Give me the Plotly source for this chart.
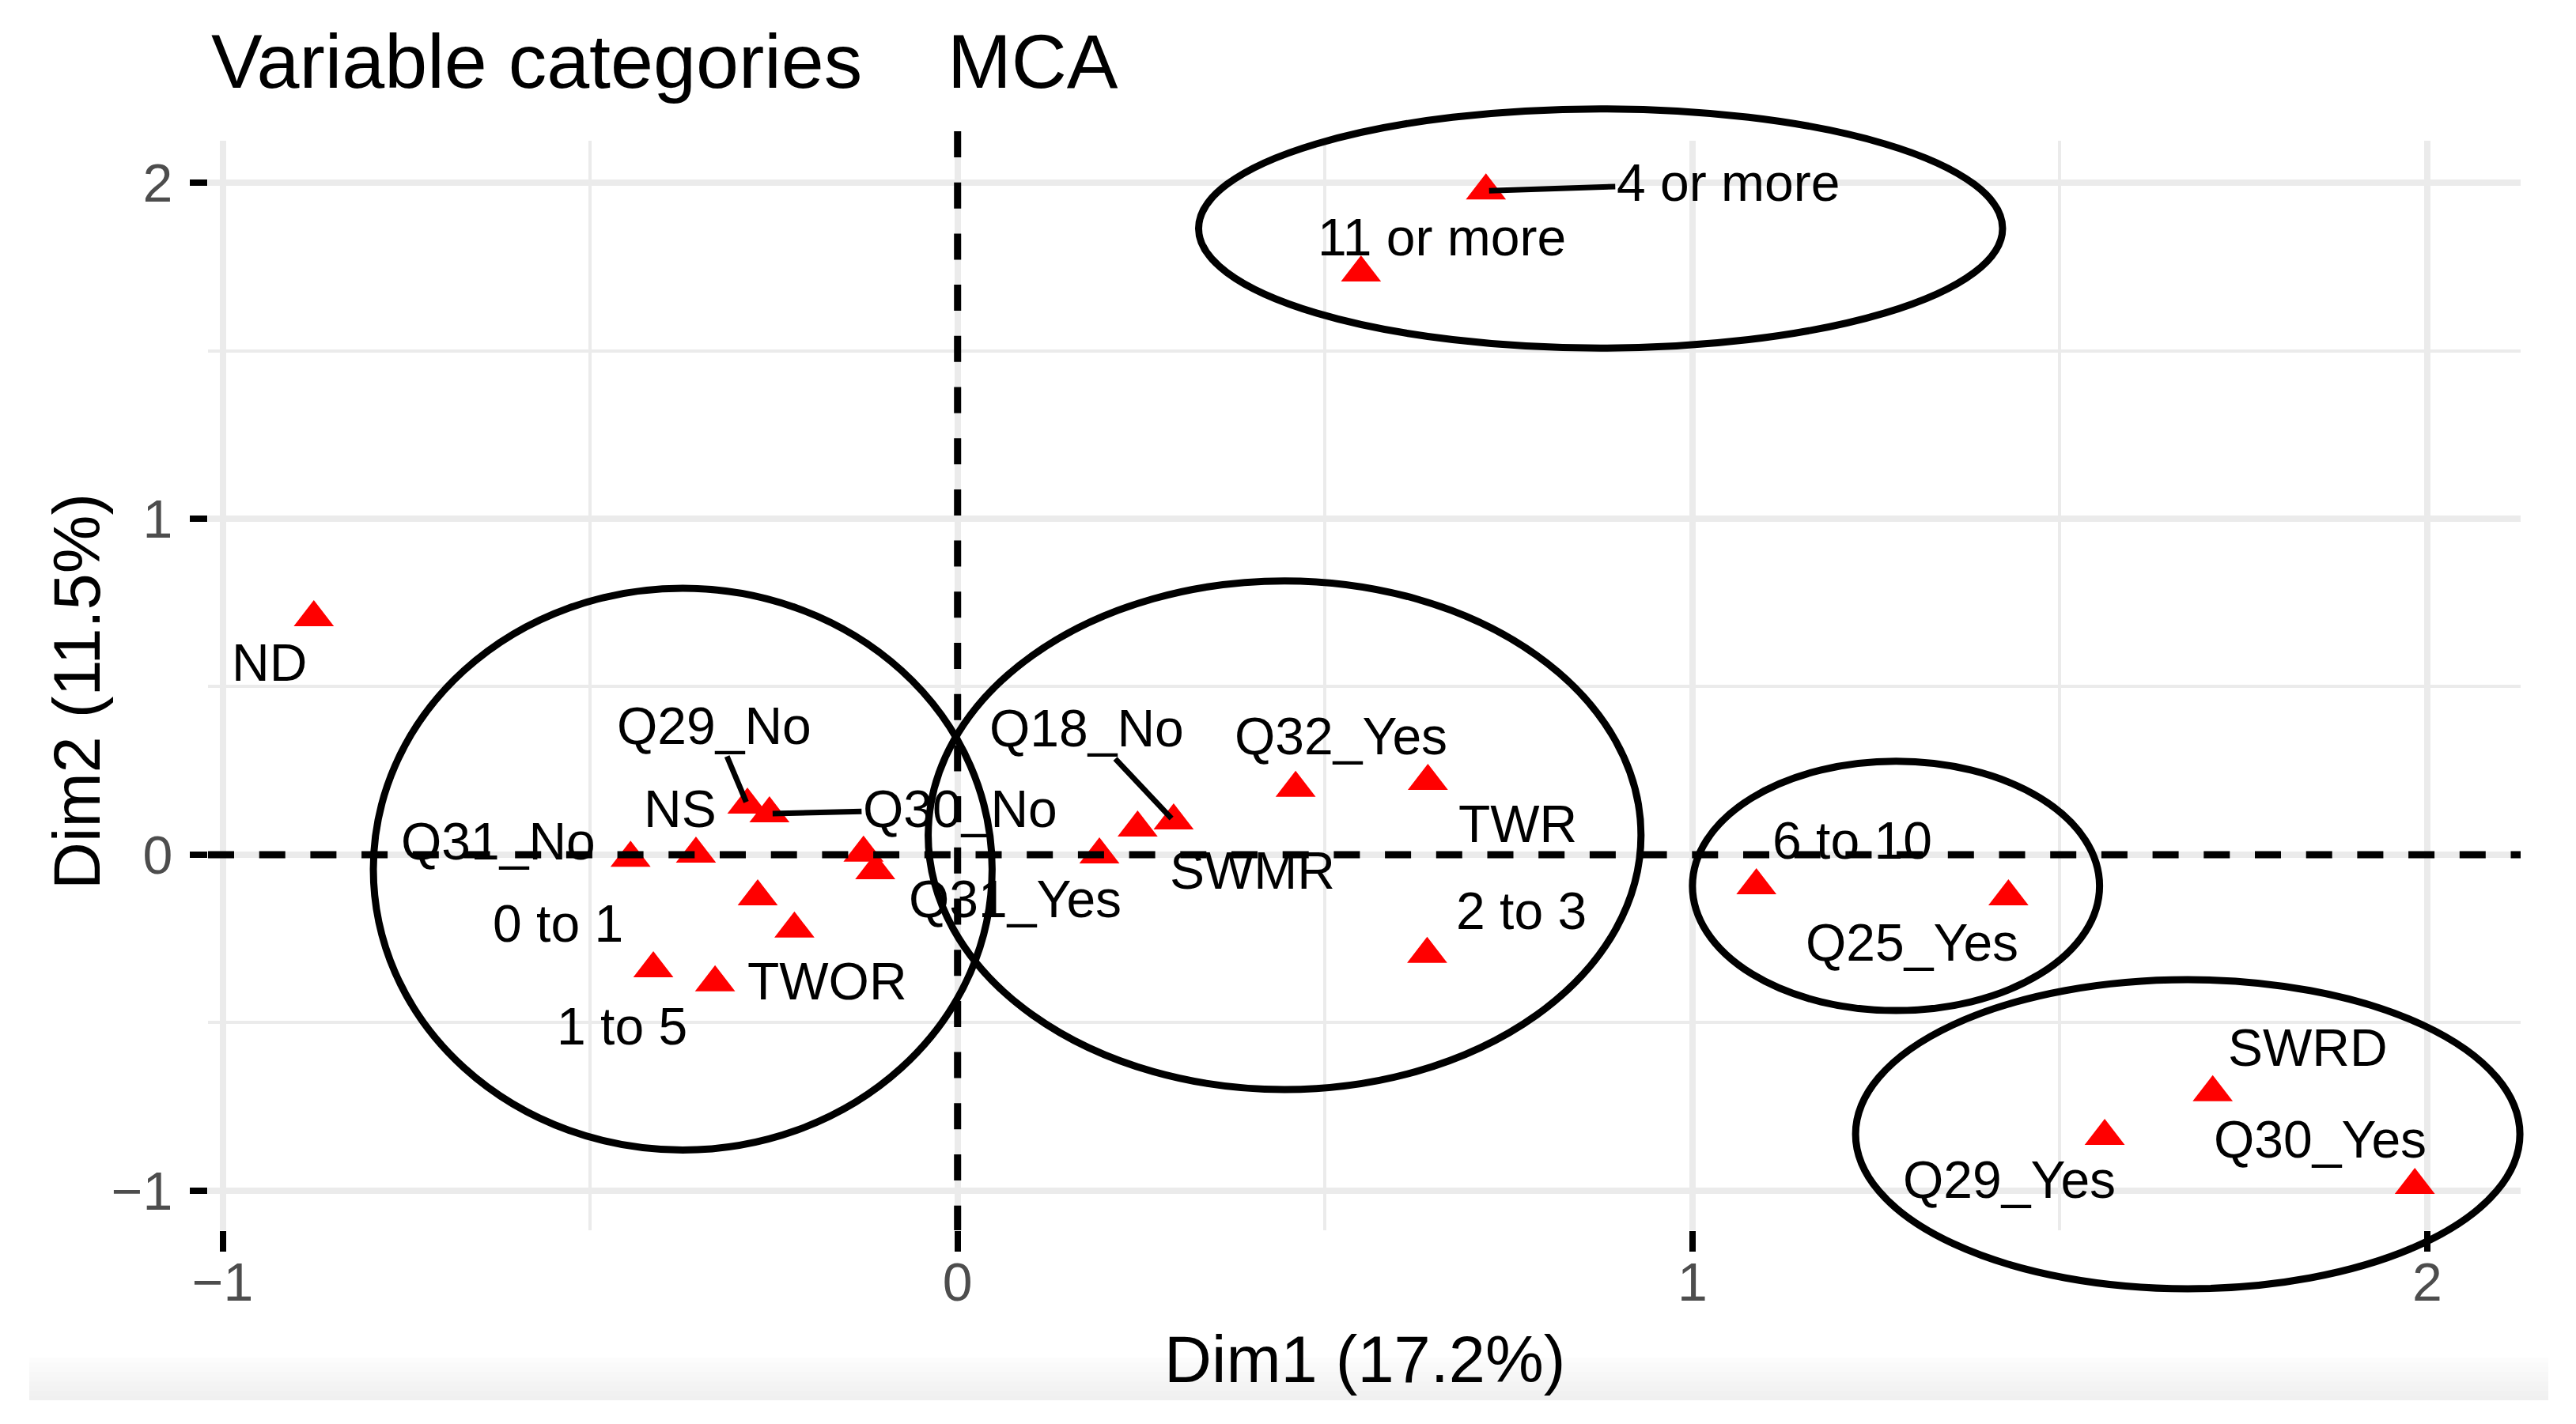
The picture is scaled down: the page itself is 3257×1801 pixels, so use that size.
import plotly.graph_objects as go

# ---------------- data ----------------
# category labels ("" = point drawn but its label was not shown in the original)
categories = ["ND", "Q31_No", "NS", "Q29_No", "Q30_No", "", "", "0 to 1", "",
              "1 to 5", "TWOR", "Q31_Yes", "SWMR", "Q18_No", "Q32_Yes", "TWR",
              "2 to 3", "6 to 10", "Q25_Yes", "SWRD", "Q29_Yes", "Q30_Yes",
              "4 or more", "11 or more"]
dim1 = [-0.876, -0.445, -0.356, -0.286, -0.256, -0.128, -0.112, -0.272, -0.222,
        -0.414, -0.330, 0.193, 0.245, 0.294, 0.460, 0.640,
        0.639, 1.087, 1.430, 1.708, 1.561, 1.983,
        0.719, 0.549]
dim2 = [0.706, -0.010, 0.002, 0.148, 0.122, 0.005, -0.047, -0.125, -0.221,
        -0.339, -0.381, 0.000, 0.080, 0.101, 0.198, 0.219,
        -0.296, -0.092, -0.125, -0.708, -0.838, -0.984,
        1.976, 1.732]

# cluster ellipses (data units)
ell_cx = [-0.374, 0.445, 1.277, 1.674, 0.875]
ell_cy = [-0.043, 0.058, -0.093, -0.832, 1.864]
ell_rx = [0.421, 0.485, 0.277, 0.452, 0.547]
ell_ry = [0.836, 0.757, 0.371, 0.460, 0.356]

x_title = "Dim1 (17.2%)"
y_title = "Dim2 (11.5%)"
title_text = "Variable categories\u00a0\u00a0\u00a0\u00a0MCA"

# ---------------- style / layout ----------------
BODY = 8                      # default page margin around the plot div
W, H = 3257 - 2 * BODY, 1801 - 2 * BODY
PL, PT, PR, PB = 263, 178, 3187, 1556   # plot area in window pixels
L, T = PL - BODY, PT - BODY
R, B = W - (PR - BODY), H - (PB - BODY)
PW, PH = PR - PL, PB - PT
XR = [-1.02, 2.127]
YR = [-1.118, 2.125]
FONT = "Liberation Sans, Arial, Helvetica, sans-serif"
GRID = "#EBEBEB"
DASH = "33px,31.7px"

# label offsets in pixels (dx, dy; dy positive = down), and whether a repel segment is drawn
label_pos = {
    "ND": (-56, 57, False), "Q31_No": (-167, -21, False), "NS": (-20, -57, False),
    "Q29_No": (-42, -100, True), "Q30_No": (241, -6, True), "0 to 1": (-253, 34, False),
    "1 to 5": (-40, 73, False), "TWOR": (142, -2, False), "Q31_Yes": (-107, 56, False),
    "SWMR": (145, 54, False), "Q18_No": (-110, -117, True), "Q32_Yes": (57, -66, False),
    "TWR": (114, 54, False), "2 to 3": (119, -55, False), "6 to 10": (121, -57, False),
    "Q25_Yes": (-122, 58, False), "SWRD": (120, -57, False), "Q29_Yes": (-121, 55, False),
    "Q30_Yes": (-120, -58, False), "4 or more": (306, -10, True), "11 or more": (102, -45, False),
}

fig = go.Figure()
fig.add_trace(go.Scatter(
    x=dim1, y=dim2, mode="markers", text=categories,
    marker=dict(symbol="triangle-up", size=44, color="#FF0000", line=dict(width=0)),
    hoverinfo="text", showlegend=False, cliponaxis=False,
))

annotations = []
for cat, xv, yv in zip(categories, dim1, dim2):
    if not cat:
        continue
    dx, dy, seg = label_pos[cat]
    annotations.append(dict(
        x=xv, y=yv, xref="x", yref="y", text=cat,
        showarrow=True, ax=dx, ay=dy, axref="pixel", ayref="pixel",
        arrowhead=0, arrowwidth=7 if seg else 0.1,
        arrowcolor="black" if seg else "rgba(0,0,0,0)",
        standoff=4, startstandoff=0,
        font=dict(family=FONT, size=66, color="black"),
    ))

# axis titles
annotations.append(dict(text=x_title, xref="paper", yref="paper",
                        x=0.5, y=(PB - 1719) / PH, xanchor="center", yanchor="middle",
                        showarrow=False, font=dict(family=FONT, size=83, color="black")))
annotations.append(dict(text=y_title, xref="paper", yref="paper",
                        x=(97 - PL) / PW, y=(PB - 875) / PH, xanchor="center", yanchor="middle",
                        textangle=-90, showarrow=False,
                        font=dict(family=FONT, size=83, color="black")))

shapes = []
# reference dashed lines at 0 (clipped to the panel; start offset sets the dash phase)
shapes.append(dict(type="line", xref="x", yref="paper", x0=0, x1=0,
                   y0=1 + (PT - 166) / PH, y1=0,
                   line=dict(color="black", width=9, dash=DASH), layer="above"))
shapes.append(dict(type="line", xref="paper", yref="y", x0=0, x1=1, y0=0, y1=0,
                   line=dict(color="black", width=9, dash=DASH), layer="above"))

# ellipses (mapped through the axis ranges to paper so they are not clipped)
def px(v):
    return (v - XR[0]) / (XR[1] - XR[0])

def py(v):
    return (v - YR[0]) / (YR[1] - YR[0])

for cx, cy, rx, ry in zip(ell_cx, ell_cy, ell_rx, ell_ry):
    shapes.append(dict(type="circle", xref="paper", yref="paper",
                       x0=px(cx - rx), x1=px(cx + rx), y0=py(cy - ry), y1=py(cy + ry),
                       line=dict(color="black", width=9), layer="above"))

# faint page-shadow band at the bottom of the picture
band_top, band_bot = 1717, 1771
n = 9
for i in range(n):
    y_a = band_top + (band_bot - band_top) * i / n
    y_b = band_top + (band_bot - band_top) * (i + 1) / n
    g = int(254 - 14 * (i + 1) / n)
    shapes.append(dict(type="rect", xref="paper", yref="paper",
                       x0=(37 - PL) / PW, x1=(3222 - PL) / PW,
                       y0=(PB - y_b) / PH, y1=(PB - y_a) / PH,
                       line=dict(width=0), fillcolor=f"rgb({g},{g},{g})", layer="below"))

axis_common = dict(
    showline=False, zeroline=False, showgrid=True, gridcolor=GRID, gridwidth=8,
    ticks="outside", tickcolor="black", tickwidth=8,
    tickfont=dict(family=FONT, size=68, color="#4D4D4D"),
    tickmode="linear", tick0=0, dtick=1,
    minor=dict(dtick=0.5, tick0=0, showgrid=True, gridcolor=GRID, gridwidth=4, ticks=""),
)

fig.update_layout(
    width=W, height=H,
    margin=dict(l=L, r=R, t=T, b=B, autoexpand=False),
    paper_bgcolor="white", plot_bgcolor="white",
    font=dict(family=FONT, color="black"),
    title=dict(text=title_text, x=(267 - BODY) / W, xanchor="left", xref="container",
               y=1 - (77.5 - BODY) / H, yanchor="middle", yref="container",
               font=dict(family=FONT, size=97, color="black")),
    xaxis=dict(range=XR, ticklen=26, ticklabelstandoff=-20, **axis_common),
    yaxis=dict(range=YR, ticklen=22, ticklabelstandoff=8, **axis_common),
    annotations=annotations,
    shapes=shapes,
)

fig.write_html("out.html")
